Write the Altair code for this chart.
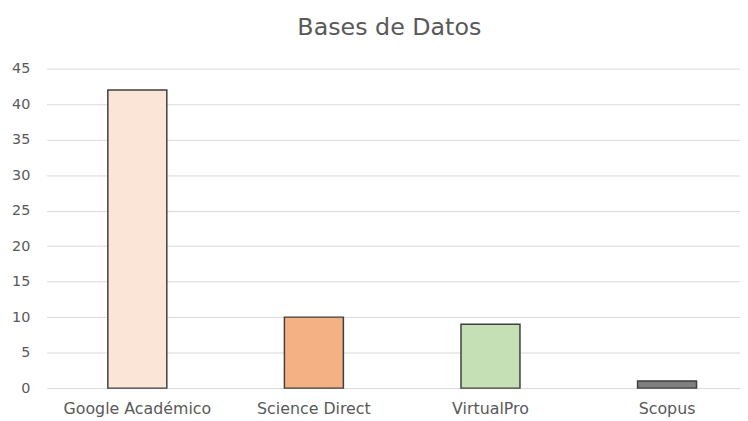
import altair as alt
import pandas as pd

categories = ["Google Académico", "Science Direct", "VirtualPro", "Scopus"]
values = [42, 10, 9, 1]
colors = ["#FBE5D6", "#F4B183", "#C5E0B4", "#7F7F7F"]

df = pd.DataFrame({"cat": categories, "val": values})

font = "DejaVu Sans"
grey = "#595959"

chart = alt.Chart(df).mark_bar(stroke="#3F3F3F", strokeWidth=1.5).encode(
    x=alt.X("cat:N", sort=categories, title=None,
            scale=alt.Scale(paddingInner=0.666, paddingOuter=0.2965, align=0.585),
            axis=alt.Axis(labelAngle=0, ticks=False, domain=False, labelPadding=13,
                          labelFont=font, labelFontSize=16, labelColor=grey, grid=False)),
    y=alt.Y("val:Q", title=None,
            scale=alt.Scale(domain=[0, 45], nice=False),
            axis=alt.Axis(values=list(range(0, 46, 5)), ticks=False, domain=False,
                          labelPadding=17, labelFont=font, labelFontSize=14.5,
                          labelColor=grey, gridColor="#D9D9D9", gridWidth=1)),
    color=alt.Color("cat:N", sort=categories,
                    scale=alt.Scale(domain=categories, range=colors), legend=None),
).properties(
    width=701,
    height=323,
    title=alt.TitleParams("Bases de Datos", font=font, fontSize=24, color=grey,
                          fontWeight="normal", anchor="middle", offset=21, dx=-4),
    autosize=alt.AutoSizeParams(type="none"),
    padding={"left": 39, "top": 59, "right": 0, "bottom": 35},
).configure_view(stroke=None)

chart.save("out.html", embed_options={"renderer": "svg", "actions": False})
